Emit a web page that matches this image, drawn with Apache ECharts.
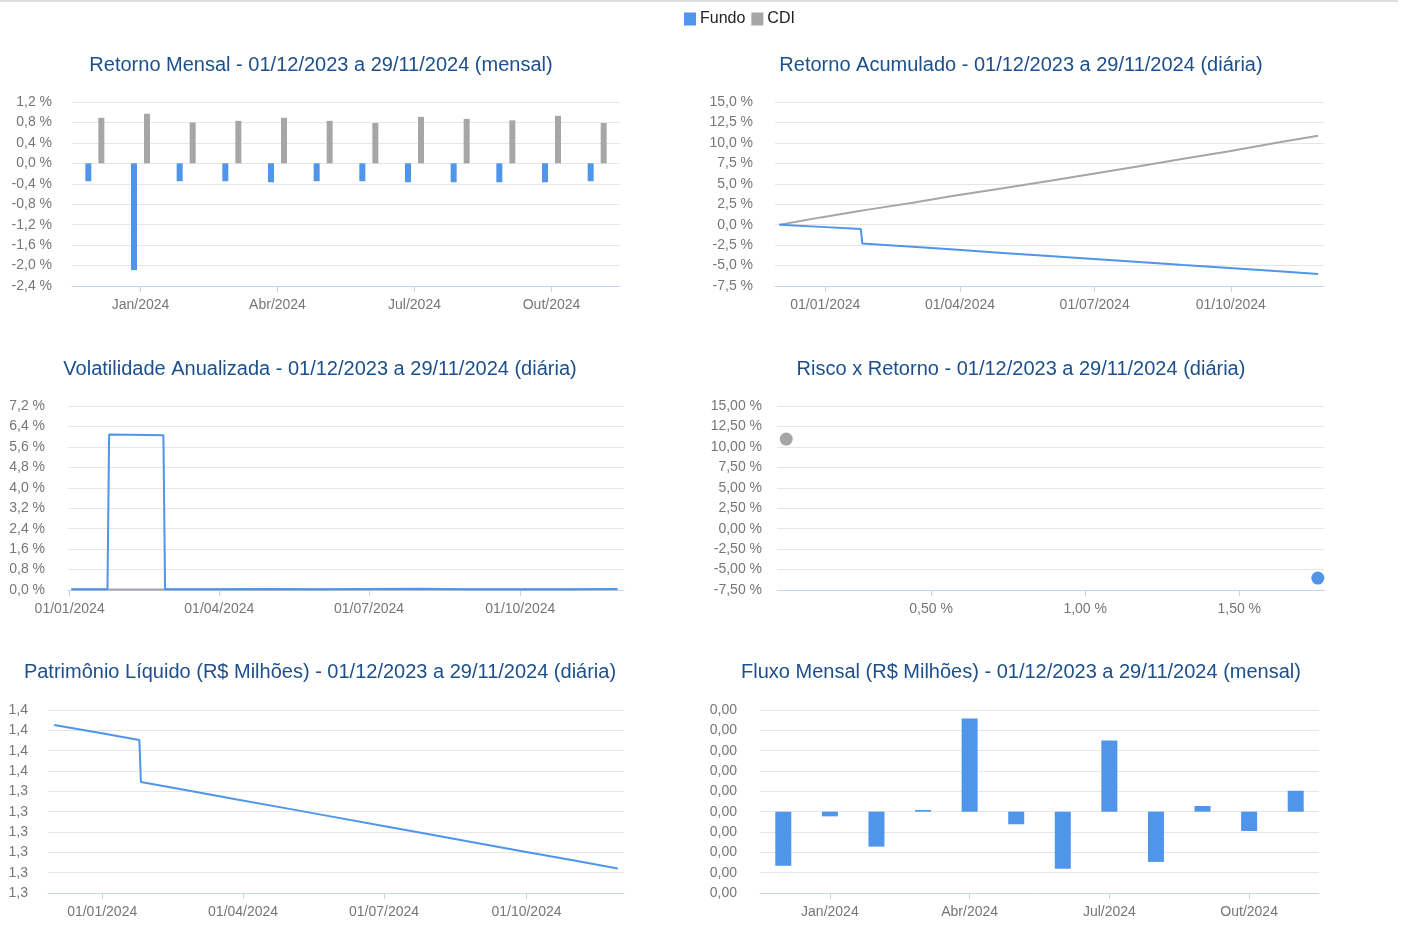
<!DOCTYPE html>
<html>
<head>
<meta charset="utf-8">
<script src="https://cdn.jsdelivr.net/npm/echarts@6/dist/echarts.min.js"></script>
<style>
  html, body { margin: 0; padding: 0; background: #ffffff; }
  #chart { width: 1404px; height: 945px; }
</style>
</head>
<body>
<div id="chart"></div>
<script>
// ---- Monthly return (%) ----
const months = ['Dez/2023', 'Jan/2024', 'Fev/2024', 'Mar/2024', 'Abr/2024', 'Mai/2024',
                'Jun/2024', 'Jul/2024', 'Ago/2024', 'Set/2024', 'Out/2024', 'Nov/2024'];
const monthlyFundo = [-0.35, -2.09, -0.35, -0.35, -0.37, -0.35, -0.35, -0.37, -0.37, -0.37, -0.37, -0.35];
const monthlyCdi = [0.89, 0.97, 0.80, 0.83, 0.89, 0.83, 0.79, 0.91, 0.87, 0.84, 0.93, 0.79];

// ---- Accumulated return (%) ----
const accDates = ['2023-12-01', '2023-12-29', '2024-01-25', '2024-01-26', '2024-01-31', '2024-02-29',
                  '2024-03-28', '2024-04-30', '2024-05-31', '2024-06-28', '2024-07-31', '2024-08-30',
                  '2024-09-30', '2024-10-31', '2024-11-29'];
const accFundo = [0, -0.27, -0.53, -2.30, -2.36, -2.71, -3.05, -3.45, -3.83, -4.16, -4.56, -4.93, -5.30, -5.68, -6.03];
const accCdi = [0, 0.89, 1.69, 1.72, 1.87, 2.68, 3.54, 4.46, 5.33, 6.17, 7.13, 8.07, 8.98, 9.99, 10.86];

// ---- Annualized volatility (%) ----
const volDates = ['2024-01-02', '2024-01-24', '2024-01-25', '2024-02-27', '2024-02-28', '2024-03-28',
                  '2024-04-30', '2024-05-31', '2024-06-28', '2024-07-31', '2024-08-30', '2024-09-30',
                  '2024-10-31', '2024-11-29'];
const volFundo = [0.03, 0.03, 6.08, 6.06, 0.03, 0.03, 0.04, 0.03, 0.04, 0.05, 0.03, 0.03, 0.03, 0.04];
const volCdi = [0.02, 0.02, 0.02, 0.02, 0.02, 0.02, 0.03, 0.02, 0.02, 0.03, 0.02, 0.02, 0.02, 0.03];

// ---- Risk x return (volatility %, return %) ----
const riskFundo = [1.755, -6.04];
const riskCdi = [0.03, 10.96];

// ---- Net assets (R$ millions) ----
const plDates = ['2023-12-01', '2023-12-29', '2024-01-25', '2024-01-26', '2024-02-29', '2024-03-28',
                 '2024-04-30', '2024-05-31', '2024-06-28', '2024-07-31', '2024-08-30', '2024-09-30',
                 '2024-10-31', '2024-11-29'];
const plValues = [1.3826, 1.3789, 1.3753, 1.3546, 1.3499, 1.3460, 1.3415, 1.3372, 1.3333, 1.3288,
                  1.3246, 1.3203, 1.3161, 1.3121];

// ---- Monthly net flow (R$ millions) ----
const fluxoFundo = [-0.000266, -0.000023, -0.000172, 0.000008, 0.000458, -0.000062,
                    -0.000281, 0.000350, -0.000247, 0.000028, -0.000095, 0.000103];

// ---- Axis tick positions ----
const quarterTicks = ['2024-01-01', '2024-04-01', '2024-07-01', '2024-10-01'];
const riskTicks = [0.5, 1.0, 1.5];

const BLUE = '#4f95ea';
const GRAY = '#a6a6a6';
const TITLE = '#1c4f8b';
const LABEL = '#767676';
const GRID_LINE = '#e6e6e6';
const AXIS_LINE = '#c5d5ee';
const FONT = '"Liberation Sans", Arial, sans-serif';

function toTime(s) {
  const p = s.split('-').map(Number);
  return new Date(p[0], p[1] - 1, p[2]).getTime();
}
function pad(n) { return (n < 10 ? '0' : '') + n; }
function fmtDate(v) {
  const d = new Date(v);
  return pad(d.getDate()) + '/' + pad(d.getMonth() + 1) + '/' + d.getFullYear();
}
function clean(v) { return Math.abs(v) < 1e-9 ? 0 : v; }
const pct1 = v => clean(v).toFixed(1).replace('.', ',') + ' %';
const pct2 = v => clean(v).toFixed(2).replace('.', ',') + ' %';
const plFmt = v => (v - 1e-6).toFixed(1).replace('.', ',');
const fxFmt = v => (Math.round(v * 100) / 100).toFixed(2).replace('.', ',');
const pairs = (dates, vals) => dates.map((d, i) => [toTime(d), vals[i]]);

const everyThird = i => i % 3 === 1;
const qTicks = quarterTicks.map(toTime);

function title(text, x, y) {
  return {
    text: text, left: x, top: y, textAlign: 'center', padding: 0,
    textStyle: { color: TITLE, fontSize: 20, fontWeight: 'normal', fontFamily: FONT }
  };
}

function yAxis(gridIndex, min, max, interval, fmt, margin) {
  return {
    type: 'value', gridIndex: gridIndex, min: min, max: max, interval: interval,
    axisLine: { show: false }, axisTick: { show: false },
    splitLine: { lineStyle: { color: GRID_LINE, width: 1 } },
    axisLabel: { formatter: fmt, color: LABEL, fontSize: 14, fontFamily: FONT, margin: margin }
  };
}

const xAxisLine = { show: true, onZero: false, lineStyle: { color: AXIS_LINE, width: 1 } };
const xTick = { show: true, length: 6, lineStyle: { color: AXIS_LINE, width: 1 } };
const xLabel = { color: LABEL, fontSize: 14, fontFamily: FONT, margin: 12 };

function catAxis(gridIndex) {
  return {
    type: 'category', gridIndex: gridIndex, data: months,
    axisLine: xAxisLine,
    axisTick: Object.assign({}, xTick, { alignWithLabel: true, interval: everyThird }),
    axisLabel: Object.assign({}, xLabel, { interval: everyThird }),
    splitLine: { show: false }
  };
}

// Daily charts: a numeric axis over timestamps, labelled on quarter starts
function dateAxis(gridIndex, min, max) {
  return {
    type: 'value', gridIndex: gridIndex, min: toTime(min), max: toTime(max),
    axisLine: xAxisLine,
    axisTick: Object.assign({}, xTick, { customValues: qTicks }),
    axisLabel: Object.assign({}, xLabel, { customValues: qTicks, formatter: fmtDate }),
    splitLine: { show: false }
  };
}

const lineStyle = color => ({
  type: 'line', showSymbol: false, symbol: 'none',
  lineStyle: { color: color, width: 2 }, itemStyle: { color: color }
});

const option = {
  animation: false,
  backgroundColor: '#ffffff',
  graphic: [{
    type: 'rect', left: 0, top: 0, shape: { x: 0, y: 0, width: 1398, height: 2 },
    style: { fill: '#dedede' }, silent: true
  }],
  legend: {
    data: ['Fundo', 'CDI'], left: 684, top: 11, padding: 0,
    icon: 'rect', itemWidth: 12, itemHeight: 13, itemGap: 6,
    textStyle: { color: '#222222', fontSize: 16, fontFamily: FONT, padding: [0, 0, 0, -1] }
  },
  title: [
    title('Retorno Mensal - 01/12/2023 a 29/11/2024 (mensal)', 321, 55),
    title('Retorno Acumulado - 01/12/2023 a 29/11/2024 (diária)', 1021, 55),
    title('Volatilidade Anualizada - 01/12/2023 a 29/11/2024 (diária)', 320, 359),
    title('Risco x Retorno - 01/12/2023 a 29/11/2024 (diária)', 1021, 359),
    title('Patrimônio Líquido (R$ Milhões) - 01/12/2023 a 29/11/2024 (diária)', 320, 662),
    title('Fluxo Mensal (R$ Milhões) - 01/12/2023 a 29/11/2024 (mensal)', 1021, 662)
  ],
  grid: [
    { left: 72, top: 102, width: 548, height: 184 },
    { left: 775, top: 102, width: 549, height: 184 },
    { left: 68, top: 406, width: 556, height: 184 },
    { left: 777, top: 406, width: 547, height: 184 },
    { left: 48, top: 710, width: 576, height: 183 },
    { left: 760, top: 710, width: 559, height: 183 }
  ],
  xAxis: [
    catAxis(0),
    dateAxis(1, '2023-11-28', '2024-12-03'),
    dateAxis(2, '2023-12-31', '2024-12-03'),
    {
      type: 'value', gridIndex: 3, min: 0, max: 1.775,
      axisLine: xAxisLine,
      axisTick: Object.assign({}, xTick, { customValues: riskTicks }),
      axisLabel: Object.assign({}, xLabel, { customValues: riskTicks, formatter: pct2 }),
      splitLine: { show: false }
    },
    dateAxis(4, '2023-11-27', '2024-12-03'),
    catAxis(5)
  ],
  yAxis: [
    yAxis(0, -2.4, 1.2, 0.4, pct1, 20),
    yAxis(1, -7.5, 15, 2.5, pct1, 22),
    yAxis(2, 0, 7.2, 0.8, pct1, 23),
    yAxis(3, -7.5, 15, 2.5, pct2, 15),
    yAxis(4, 1.30, 1.39, 0.01, plFmt, 20),
    yAxis(5, -0.0004, 0.0005, 0.0001, fxFmt, 23)
  ],
  series: [
    { name: 'Fundo', type: 'bar', xAxisIndex: 0, yAxisIndex: 0, data: monthlyFundo,
      barWidth: 6, barGap: '117%', itemStyle: { color: BLUE } },
    { name: 'CDI', type: 'bar', xAxisIndex: 0, yAxisIndex: 0, data: monthlyCdi,
      barWidth: 6, barGap: '117%', itemStyle: { color: GRAY } },

    Object.assign(lineStyle(GRAY), { name: 'CDI', xAxisIndex: 1, yAxisIndex: 1, data: pairs(accDates, accCdi) }),
    Object.assign(lineStyle(BLUE), { name: 'Fundo', xAxisIndex: 1, yAxisIndex: 1, data: pairs(accDates, accFundo) }),

    Object.assign(lineStyle(GRAY), { name: 'CDI', xAxisIndex: 2, yAxisIndex: 2, data: pairs(volDates, volCdi) }),
    Object.assign(lineStyle(BLUE), { name: 'Fundo', xAxisIndex: 2, yAxisIndex: 2, data: pairs(volDates, volFundo) }),

    { name: 'CDI', type: 'scatter', xAxisIndex: 3, yAxisIndex: 3, data: [riskCdi],
      symbolSize: 13, itemStyle: { color: GRAY, opacity: 1 } },
    { name: 'Fundo', type: 'scatter', xAxisIndex: 3, yAxisIndex: 3, data: [riskFundo],
      symbolSize: 13, itemStyle: { color: BLUE, opacity: 1 } },

    Object.assign(lineStyle(BLUE), { name: 'Fundo', xAxisIndex: 4, yAxisIndex: 4, data: pairs(plDates, plValues) }),

    { name: 'Fundo', type: 'bar', xAxisIndex: 5, yAxisIndex: 5, data: fluxoFundo,
      barWidth: 16, itemStyle: { color: BLUE } }
  ]
};

const chart = echarts.init(document.getElementById('chart'), null, { renderer: 'canvas' });
chart.setOption(option);
</script>
</body>
</html>
